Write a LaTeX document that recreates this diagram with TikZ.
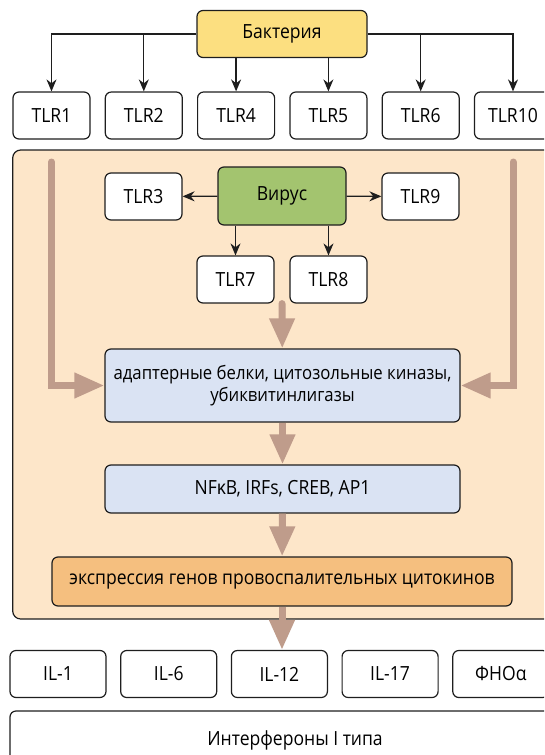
\documentclass[tikz,border=0pt]{standalone}
\usepackage{fontspec}
\setmainfont{Open Sans}[FakeStretch=0.9]
\usetikzlibrary{arrows.meta,calc}

\definecolor{bactfill}{HTML}{FCDF80}
\definecolor{virfill}{HTML}{A3C46F}
\definecolor{cellfill}{HTML}{FDE6C9}
\definecolor{sigfill}{HTML}{DAE3F3}
\definecolor{exprfill}{HTML}{F5BF7F}
\definecolor{flow}{HTML}{BF9C8B}
\definecolor{edge}{HTML}{1E1E1E}

\tikzset{
  box/.style={draw=edge, line width=1.2pt, rounded corners=6pt, fill=white,
    minimum width=77pt, minimum height=47pt, inner sep=0pt},
  thin arrow/.style={-{Stealth[length=12pt,width=10pt]}, line width=1.3pt, draw=edge},
  flow arrow/.style={-{Triangle[length=30pt,width=24pt]}, line width=7pt, draw=flow}
}

\begin{document}
\begin{tikzpicture}[x=1pt, y=-1pt, font=\fontsize{19.5}{21.5}\selectfont]
  \useasboundingbox (0,0) rectangle (544,755);
  \clip (0,0) rectangle (544,755);

  % bacteria and its receptors
  \node[box, fill=bactfill, minimum width=170pt] (bact) at (282,34) {Бактерия};
  \foreach \name/\i in {TLR1/0,TLR2/1,TLR4/2,TLR5/3,TLR6/4,TLR10/5}{
    \node[box] (\name) at (51.5+92.3*\i,115.5) {\name};
  }
  \draw[thin arrow] (bact.west) -| (TLR1);
  \draw[thin arrow] (bact.east) -| (TLR10);
  \draw[thin arrow] (bact.west -| TLR2) -- (TLR2);
  \draw[thin arrow] (bact.east -| TLR6) -- (TLR6);
  \draw[thin arrow] (bact.south -| TLR4) -- (TLR4);
  \draw[thin arrow] (bact.south -| TLR5) -- (TLR5);

  % the cell
  \draw[draw=edge, line width=1.2pt, fill=cellfill, rounded corners=8pt]
    (12.7,150) rectangle (575,619);

  % virus and its receptors
  \node[box, fill=virfill, minimum width=128pt, minimum height=58pt] (vir) at (282,196) {Вирус};
  \node[box] (TLR3) at (143.5,196.5) {TLR3};
  \node[box] (TLR9) at (420.5,196.5) {TLR9};
  \node[box] (TLR7) at (235.5,279.5) {TLR7};
  \node[box] (TLR8) at (328.5,279.5) {TLR8};
  \draw[thin arrow] (vir) -- (TLR3);
  \draw[thin arrow] (vir) -- (TLR9);
  \draw[thin arrow] (vir.south -| TLR7) -- (TLR7);
  \draw[thin arrow] (vir.south -| TLR8) -- (TLR8);

  % signalling chain
  \node[box, fill=sigfill, minimum width=355pt, minimum height=73pt, align=center,
    font=\fontsize{18.6}{22}\selectfont] (adapt) at (282.5,385.5)
    {адаптерные белки, цитозольные киназы,\\убиквитинлигазы};
  \node[box, fill=sigfill, minimum width=355pt, minimum height=48pt] (nfkb) at (282.5,489) {NFκB, IRFs, CREB, AP1};
  \node[box, fill=exprfill, minimum width=460pt, minimum height=49pt] (expr) at (282,581.5)
    {экспрессия генов провоспалительных цитокинов};

  \coordinate (ltop) at (51.5,162);
  \coordinate (rtop) at (513,162);
  \draw[flow arrow, line cap=round] ($(TLR7.south east)!0.5!(TLR8.south west)$) -- (adapt);
  \draw[flow arrow, line cap=round] (ltop) |- (adapt);
  \draw[flow arrow, line cap=round] (rtop) |- (adapt);
  \draw[flow arrow] (adapt) -- (nfkb);
  \draw[flow arrow] (nfkb) -- (expr);

  % cytokines
  \foreach \name/\txt/\i in {il1/IL-1/0,il6/IL-6/1,il12/IL-12/2,il17/IL-17/3,tnf/ФНОα/4}{
    \node[box, minimum width=96pt] (\name) at (58+110.7*\i,674) {\txt};
  }
  \draw[flow arrow] (expr.south) -- (expr.south |- il12.north);
  \node[box, minimum width=570pt, minimum height=59pt] (ifn) at (295,740.5) {Интерфероны I типа};
\end{tikzpicture}
\end{document}
